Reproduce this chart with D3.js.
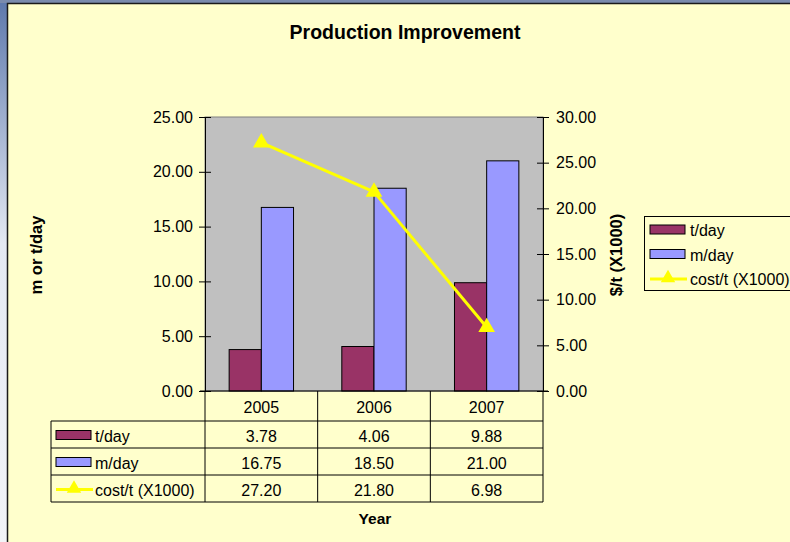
<!DOCTYPE html>
<html>
<head>
    <meta charset="utf-8">
    <title>Production Improvement</title>
    <script src="https://d3js.org/d3.v7.min.js"></script>
    <style>
        body { padding: 0; margin: 0; }
        text { font-family: "Liberation Sans", Arial, sans-serif; fill: #000; }
    </style>
</head>
<body>
    <svg id="svg" width="790" height="542"></svg>

    <script>
        // Data.
        const years = ["2005", "2006", "2007"];
        const tonsPerDay = [3.78, 4.06, 9.88];
        const metresPerDay = [16.75, 18.50, 21.00];
        const costPerTon = [27.20, 21.80, 6.98];
        const leftTicks = [0, 5, 10, 15, 20, 25];
        const rightTicks = [0, 5, 10, 15, 20, 25, 30];

        const barSeries = [
            { name: "t/day", values: tonsPerDay, color: "#993366" },
            { name: "m/day", values: metresPerDay, color: "#9999ff" }
        ];
        const lineSeries = { name: "cost/t (X1000)", values: costPerTon, color: "#ffff00" };

        const svg = d3.select("svg");
        const fs = 16;

        // Window background round the chart area.
        const defs = svg.append("defs");
        const grad = defs.append("linearGradient").attr("id", "side")
            .attr("x1", 0).attr("y1", 0).attr("x2", 0).attr("y2", 1);
        grad.append("stop").attr("offset", "0").attr("stop-color", "#5d78ac");
        grad.append("stop").attr("offset", "0.45").attr("stop-color", "#e4e9f3");
        grad.append("stop").attr("offset", "1").attr("stop-color", "#f2f4f8");
        svg.append("rect").attr("width", 790).attr("height", 542).attr("fill", "url(#side)");
        svg.append("rect").attr("width", 790).attr("height", 3).attr("fill", "#7a8bad");

        // Chart area.
        svg.append("rect")
            .attr("x", 7.5).attr("y", 3.5).attr("width", 800).attr("height", 560)
            .attr("fill", "#ffffcc").attr("stroke", "#1a1a1a").attr("stroke-width", 1.5);

        const plot = { left: 205, right: 543, top: 117, bottom: 391 };

        const x = d3.scaleBand().domain(years).range([plot.left, plot.right]);
        const xBar = d3.scaleBand().domain(barSeries.map(d => d.name))
            .range([0, x.bandwidth()]).paddingInner(0).paddingOuter(0.75);
        const yLeft = d3.scaleLinear().domain([0, 25]).range([plot.bottom, plot.top]);
        const yRight = d3.scaleLinear().domain([0, 30]).range([plot.bottom, plot.top]);

        // Title.
        svg.append("text")
            .attr("x", 405).attr("y", 39)
            .attr("text-anchor", "middle")
            .attr("font-weight", "bold").attr("font-size", 19.5)
            .text("Production Improvement");

        // Plot area.
        svg.append("rect")
            .attr("x", plot.left).attr("y", plot.top)
            .attr("width", plot.right - plot.left).attr("height", plot.bottom - plot.top)
            .attr("fill", "#c0c0c0").attr("stroke", "#808080");

        // Bars.
        barSeries.forEach(s => {
            svg.append("g").selectAll("rect")
                .data(years.map((yr, i) => ({ yr, v: s.values[i] })))
                .join("rect")
                .attr("x", d => x(d.yr) + xBar(s.name))
                .attr("y", d => yLeft(d.v))
                .attr("width", xBar.bandwidth())
                .attr("height", d => yLeft(0) - yLeft(d.v))
                .attr("fill", s.color)
                .attr("stroke", "#000").attr("stroke-width", 1);
        });

        // Cost line with triangle markers.
        const pts = years.map((yr, i) => ({ yr, v: lineSeries.values[i] }));
        const line = d3.line()
            .x(d => x(d.yr) + x.bandwidth() / 2)
            .y(d => yRight(d.v));
        svg.append("path").datum(pts)
            .attr("d", line).attr("fill", "none")
            .attr("stroke", lineSeries.color).attr("stroke-width", 3)
            .attr("stroke-linejoin", "round");
        const tri = d3.symbol().type(d3.symbolTriangle).size(120);
        svg.append("g").selectAll("path")
            .data(pts).join("path")
            .attr("d", tri)
            .attr("transform", d => `translate(${x(d.yr) + x.bandwidth() / 2},${yRight(d.v)})`)
            .attr("fill", lineSeries.color);

        // Axes (cross tick marks).
        const fmt = d3.format(".2f");
        const leftAxis = svg.append("g")
            .attr("transform", `translate(${plot.left},0)`)
            .call(d3.axisLeft(yLeft).tickValues(leftTicks).tickFormat(fmt).tickSizeInner(6).tickSizeOuter(0).tickPadding(6));
        leftAxis.selectAll(".tick line").attr("x1", 6).attr("stroke", "#000");
        const rightAxis = svg.append("g")
            .attr("transform", `translate(${plot.right},0)`)
            .call(d3.axisRight(yRight).tickValues(rightTicks).tickFormat(fmt).tickSizeInner(6).tickSizeOuter(0).tickPadding(7));
        rightAxis.selectAll(".tick line").attr("x1", -6).attr("stroke", "#000");
        [leftAxis, rightAxis].forEach(a => {
            a.select(".domain").attr("stroke", "#000");
            a.selectAll("text").attr("font-size", fs).attr("fill", "#000")
                .attr("font-family", "'Liberation Sans', Arial, sans-serif");
        });

        // Bottom axis line.
        svg.append("line")
            .attr("x1", plot.left - 5).attr("x2", plot.right + 5)
            .attr("y1", plot.bottom).attr("y2", plot.bottom)
            .attr("stroke", "#000");

        // Axis titles.
        svg.append("text")
            .attr("transform", `translate(42,255) rotate(-90)`)
            .attr("text-anchor", "middle").attr("font-weight", "bold").attr("font-size", 16.5)
            .text("m or t/day");
        svg.append("text")
            .attr("transform", `translate(622,255) rotate(-90)`)
            .attr("text-anchor", "middle").attr("font-weight", "bold").attr("font-size", 16.5)
            .text("$/t (X1000)");
        svg.append("text")
            .attr("x", 375).attr("y", 524)
            .attr("text-anchor", "middle").attr("font-weight", "bold").attr("font-size", 15.5)
            .text("Year");

        // Data table.
        const table = { left: 51, headTop: plot.bottom, rowTop: 421, rowH: 27 };
        const rows = [
            { name: barSeries[0].name, values: barSeries[0].values, key: "bar", color: barSeries[0].color },
            { name: barSeries[1].name, values: barSeries[1].values, key: "bar", color: barSeries[1].color },
            { name: lineSeries.name, values: lineSeries.values, key: "line", color: lineSeries.color }
        ];
        const tableBottom = table.rowTop + rows.length * table.rowH;
        const tg = svg.append("g").attr("stroke", "#000").attr("stroke-width", 1);
        // column lines at band edges
        const edges = years.map(yr => x(yr)).concat([plot.right]);
        edges.forEach(ex => {
            tg.append("line").attr("x1", ex).attr("x2", ex)
                .attr("y1", table.headTop).attr("y2", tableBottom);
        });
        d3.range(rows.length + 1).forEach(i => {
            const yy = table.rowTop + i * table.rowH;
            tg.append("line").attr("x1", table.left).attr("x2", plot.right)
                .attr("y1", yy).attr("y2", yy);
        });
        tg.append("line").attr("x1", table.left).attr("x2", table.left)
            .attr("y1", table.rowTop).attr("y2", tableBottom);

        years.forEach(yr => {
            svg.append("text")
                .attr("x", x(yr) + x.bandwidth() / 2).attr("y", table.headTop + 22)
                .attr("text-anchor", "middle").attr("font-size", fs)
                .text(yr);
        });

        function drawKey(g, k, kx, ky) {
            if (k.key === "bar") {
                g.append("rect").attr("x", kx).attr("y", ky - 5).attr("width", 35).attr("height", 9)
                    .attr("fill", k.color).attr("stroke", "#000").attr("stroke-width", 1);
            } else {
                g.append("line").attr("x1", kx).attr("x2", kx + 37).attr("y1", ky).attr("y2", ky)
                    .attr("stroke", k.color).attr("stroke-width", 3);
                g.append("path").attr("d", d3.symbol().type(d3.symbolTriangle).size(90))
                    .attr("transform", `translate(${kx + 18},${ky - 1})`)
                    .attr("fill", k.color);
            }
        }

        rows.forEach((r, i) => {
            const cy = table.rowTop + i * table.rowH + table.rowH / 2;
            drawKey(svg, r, 56, cy + 1);
            svg.append("text").attr("x", 95).attr("y", cy + 7)
                .attr("font-size", fs).text(r.name);
            r.values.forEach((v, j) => {
                svg.append("text")
                    .attr("x", x(years[j]) + x.bandwidth() / 2).attr("y", cy + 7)
                    .attr("text-anchor", "middle").attr("font-size", fs)
                    .text(fmt(v));
            });
        });

        // Legend.
        const lg = svg.append("g");
        lg.append("rect").attr("x", 644.5).attr("y", 216.5).attr("width", 160).attr("height", 74)
            .attr("fill", "#ffffcc").attr("stroke", "#000").attr("stroke-width", 1);
        rows.forEach((r, i) => {
            const cy = 230 + i * 24.5;
            drawKey(lg, r, 650, cy);
            lg.append("text").attr("x", 690).attr("y", cy + 6)
                .attr("font-size", fs).text(r.name);
        });
    </script>
</body>
</html>
